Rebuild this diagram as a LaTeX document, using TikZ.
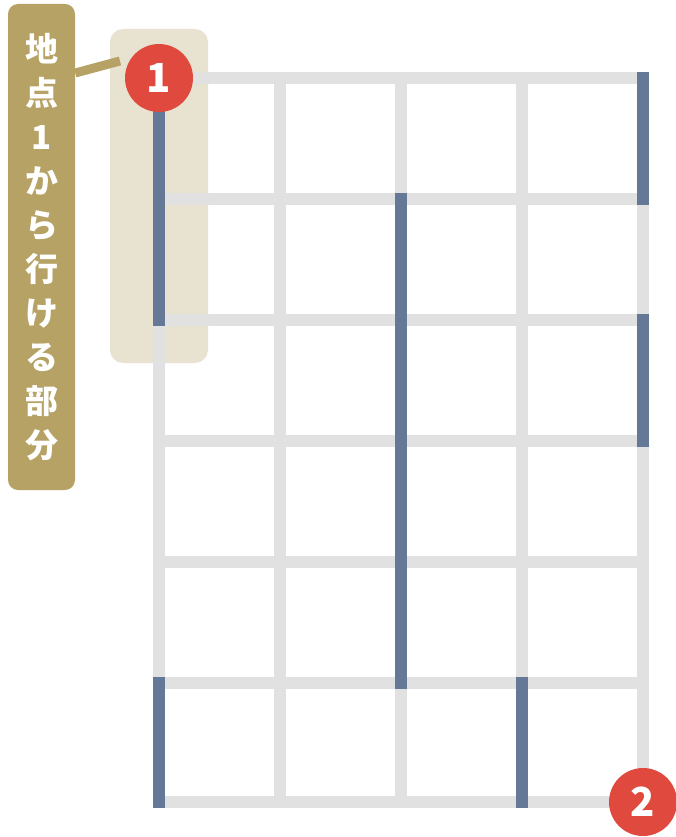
\documentclass[tikz,border=0pt]{standalone}
\usepackage{fontspec}
\newfontfamily\jp{Noto Sans CJK JP}
\definecolor{gridgrey}{HTML}{E1E1E1}
\definecolor{pathblue}{HTML}{657895}
\definecolor{markred}{HTML}{E04A3E}
\definecolor{labelgold}{HTML}{B5A264}
\definecolor{hilite}{HTML}{E8E3D1}
\tikzset{
  gridline/.style={draw=gridgrey, line width=12pt, line cap=rect},
  pathline/.style={draw=pathblue, line width=12pt, line cap=rect},
  marker/.style={circle, fill=markred, minimum size=68pt, inner sep=0pt, text=white, font=\jp\bfseries\fontsize{40}{40}\selectfont},
  labelbox/.style={rectangle, rounded corners=10pt, fill=labelgold, minimum width=67pt, minimum height=486pt, inner sep=0pt, text=white, align=center, font=\jp\bfseries\fontsize{33}{44}\selectfont},
  hibox/.style={rectangle, rounded corners=13pt, fill=hilite, minimum width=98pt, minimum height=334pt, inner sep=0pt},
  leader/.style={draw=labelgold, line width=9pt}
}
\begin{document}
\begin{tikzpicture}[x=1pt,y=-1pt]
\useasboundingbox (0,0) rectangle (675,837);
% highlight area
\node[hibox] (hl) at (159,196) {};
% grid coordinates
\foreach \c/\x in {0/159,1/280,2/401,3/522,4/643}{
  \foreach \r/\y in {0/78,1/199,2/320,3/441,4/562,5/683,6/802}{
    \coordinate (p-\c-\r) at (\x,\y);
  }
}
% grey grid
\foreach \c in {0,...,4}{ \draw[gridline] (p-\c-0) -- (p-\c-6); }
\foreach \r in {0,...,6}{ \draw[gridline] (p-0-\r) -- (p-4-\r); }
% blue path segments
\draw[pathline] (p-0-0) -- (p-0-2);
\draw[pathline] (p-0-5) -- (p-0-6);
\draw[pathline] (p-2-1) -- (p-2-5);
\draw[pathline] (p-3-5) -- (p-3-6);
\draw[pathline] (p-4-0) -- (p-4-1);
\draw[pathline] (p-4-2) -- (p-4-3);
% markers
\node[marker] (m1) at (p-0-0) {1};
\node[marker] (m2) at (p-4-6) {2};
% label
\node[labelbox] (lab) at (41.5,247) {地\\点\\1\\か\\ら\\行\\け\\る\\部\\分};
\coordinate (leadend) at (120,61);
\draw[leader] (lab.east |- 0,73) -- (leadend);
\end{tikzpicture}
\end{document}
